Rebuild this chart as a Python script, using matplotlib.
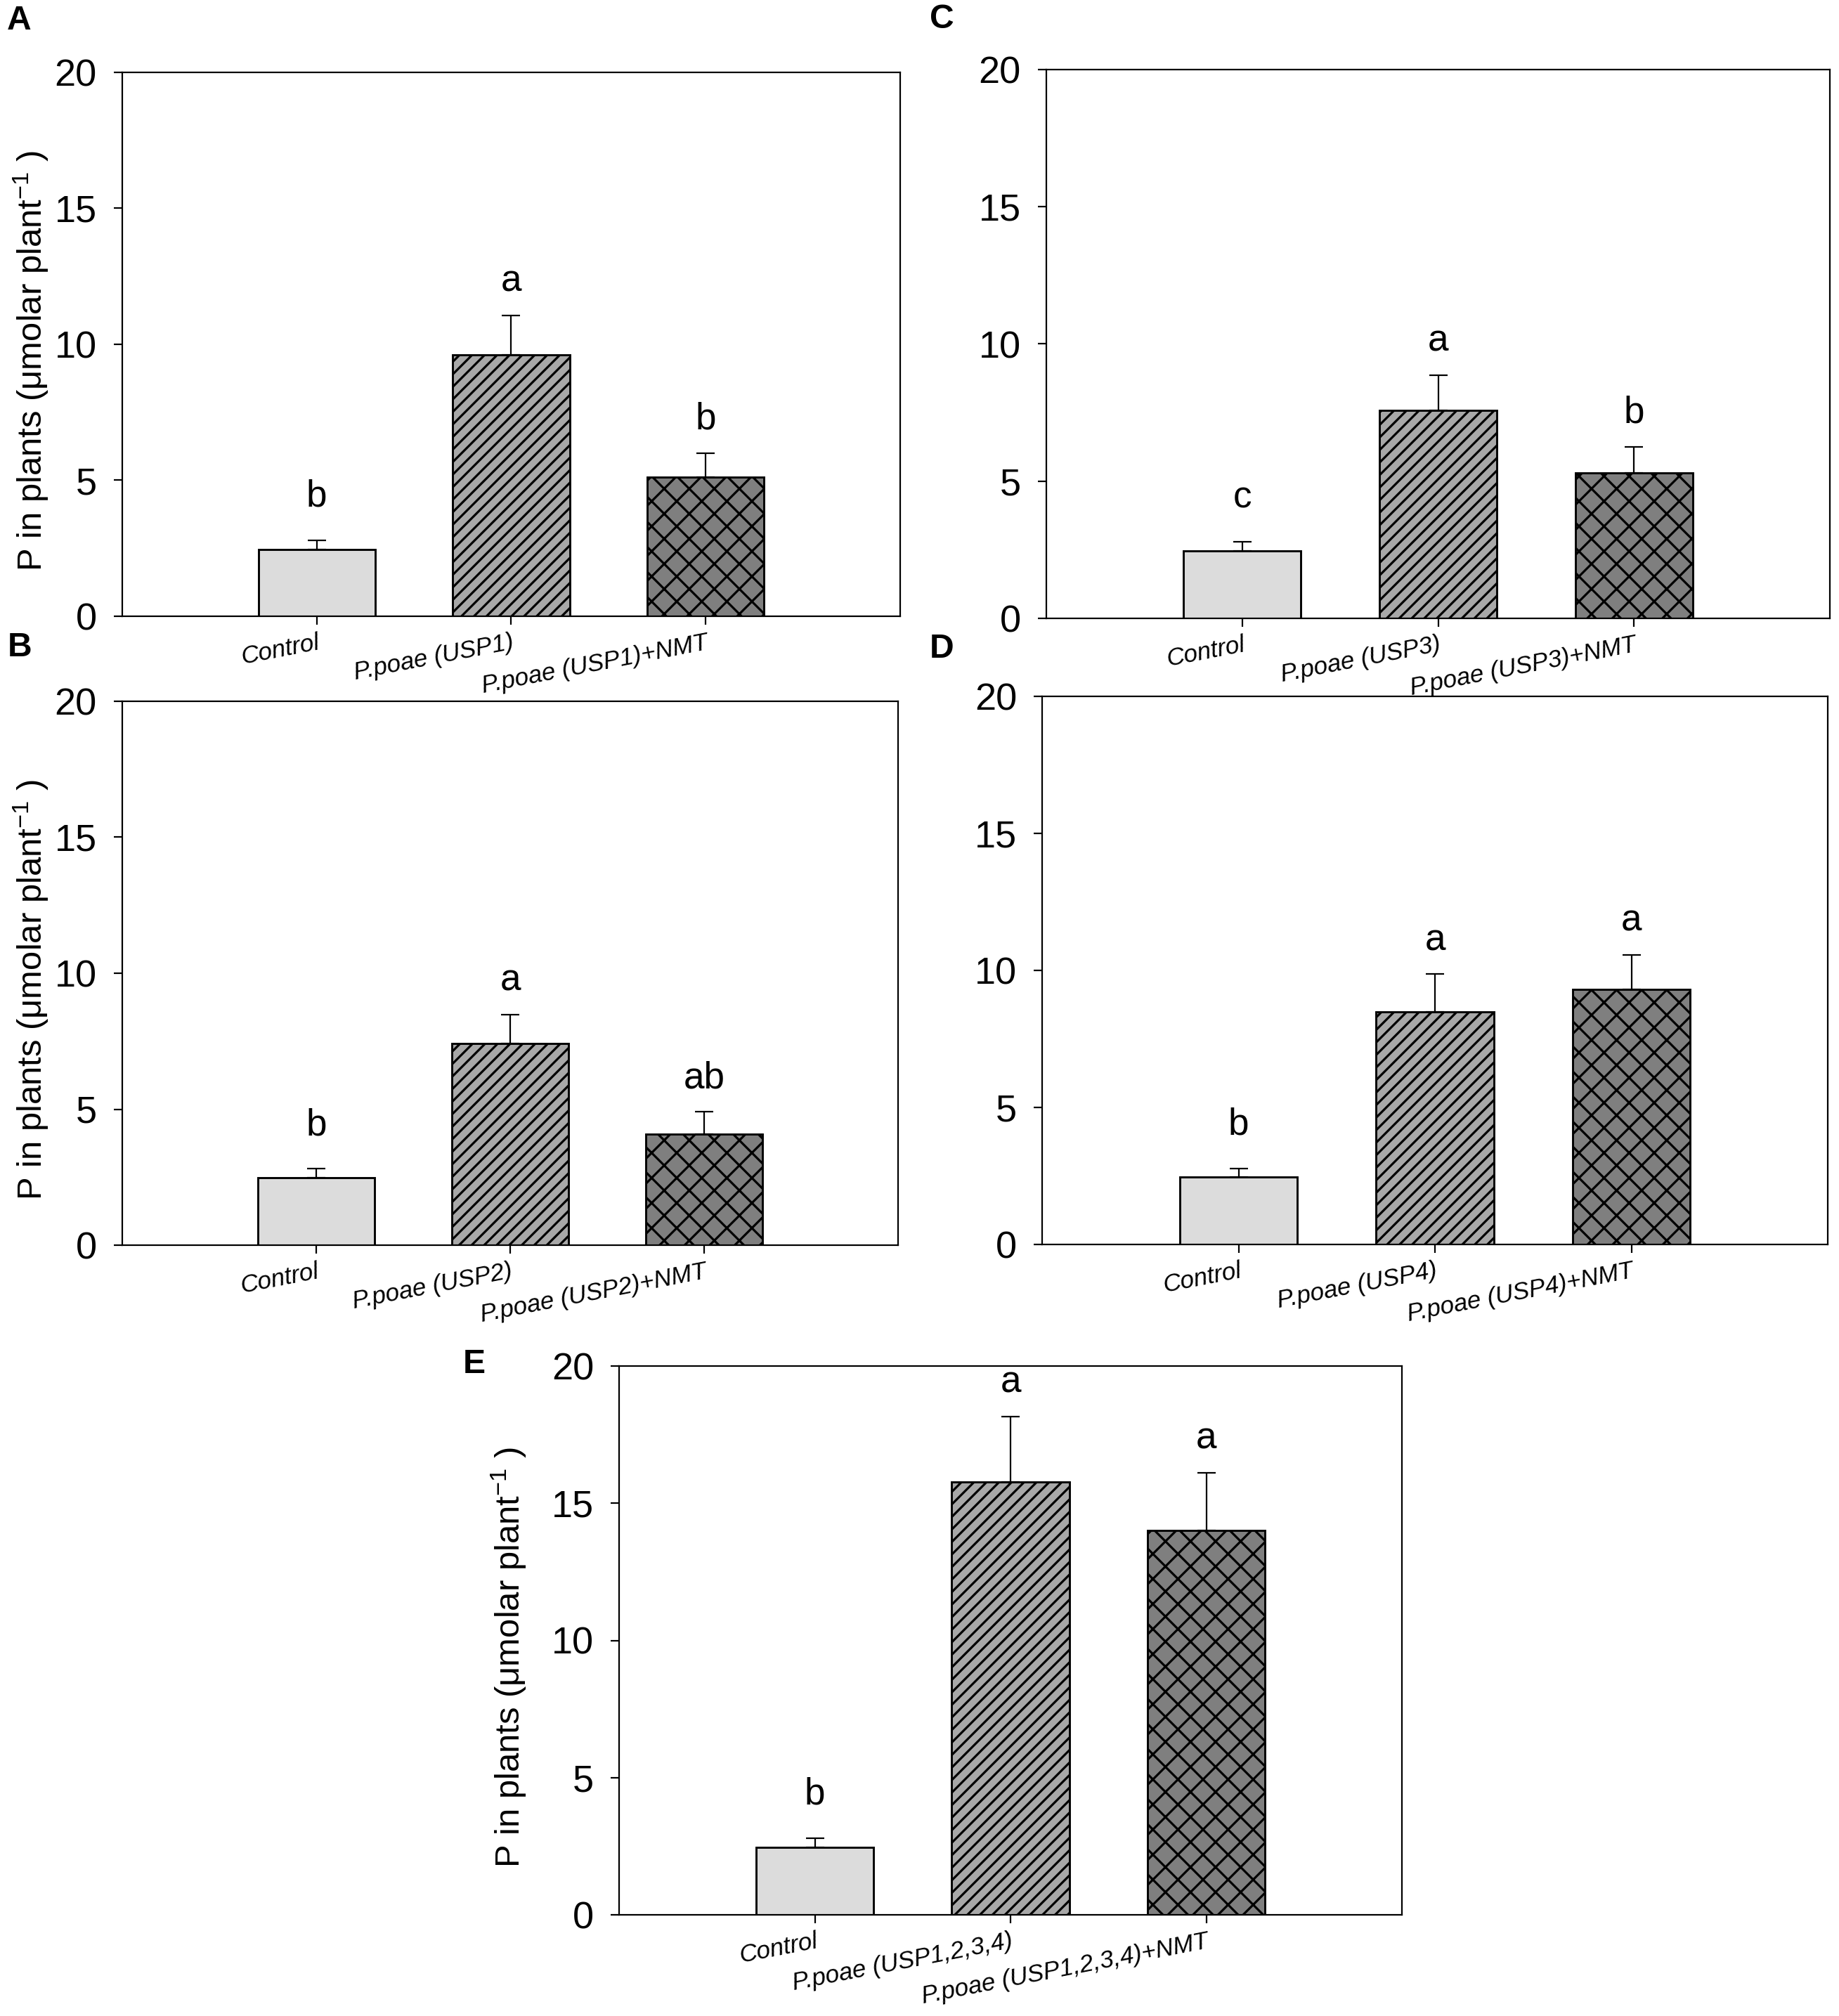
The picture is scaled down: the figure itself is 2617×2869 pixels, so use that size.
import numpy as np
import matplotlib
matplotlib.use("Agg")
import matplotlib.pyplot as plt

# bar values (umolar plant-1), error = upper SE only
labels_A = ["Control", "P.poae (USP1)", "P.poae (USP1)+NMT"]
means_A = [2.45, 9.62, 5.12]
err_A = [0.35, 1.45, 0.88]
sig_A = ["b", "a", "b"]

labels_B = ["Control", "P.poae (USP2)", "P.poae (USP2)+NMT"]
means_B = [2.49, 7.42, 4.08]
err_B = [0.33, 1.05, 0.82]
sig_B = ["b", "a", "ab"]

labels_C = ["Control", "P.poae (USP3)", "P.poae (USP3)+NMT"]
means_C = [2.46, 7.58, 5.30]
err_C = [0.34, 1.27, 0.94]
sig_C = ["c", "a", "b"]

labels_D = ["Control", "P.poae (USP4)", "P.poae (USP4)+NMT"]
means_D = [2.45, 8.50, 9.30]
err_D = [0.33, 1.36, 1.26]
sig_D = ["b", "a", "a"]

labels_E = ["Control", "P.poae (USP1,2,3,4)", "P.poae (USP1,2,3,4)+NMT"]
means_E = [2.46, 15.77, 14.00]
err_E = [0.33, 2.38, 2.10]
sig_E = ["b", "a", "a"]

yticks = [0, 5, 10, 15, 20]

# low dpi so the hatch patterns come out as dense as the original
W, H, DPI = 2617, 2869, 107


def px(v):
    # pixel size -> points
    return v * 72.0 / DPI


plt.rcParams['font.family'] = ['Liberation Sans', 'DejaVu Sans']
plt.rcParams['mathtext.fontset'] = 'custom'
plt.rcParams['mathtext.rm'] = 'Liberation Sans'
plt.rcParams['mathtext.it'] = 'Liberation Sans:italic'
plt.rcParams['hatch.linewidth'] = px(3.2)
plt.rcParams['hatch.color'] = 'black'

fig = plt.figure(figsize=(W / DPI, H / DPI), dpi=DPI)

bar_colors = ['#dcdcdc', '#a8a8a8', '#7f7f7f']
bar_hatch = [None, '//', 'x']
gaps = [0.95, 0.6, 0.6]


def panel(rect, letter, letter_xy, labels, means, errs, sigs, ylab_x=None):
    # rect in pixels: left, right, top, bottom
    l, r, t, b = rect
    ax = fig.add_axes([l / W, 1 - b / H, (r - l) / W, (b - t) / H])
    x = np.arange(1, 4)
    ax.errorbar(x, means, yerr=[np.zeros(3), errs], fmt='none', ecolor='black',
                elinewidth=px(2.2), capsize=px(13), capthick=px(2.2), zorder=1)
    for i in range(3):
        ax.bar(x[i], means[i], width=0.6, color=bar_colors[i], edgecolor='black',
               linewidth=px(2.9), hatch=bar_hatch[i], zorder=2)
        ax.text(x[i], means[i] + errs[i] + gaps[i], sigs[i], ha='center',
                va='bottom', fontsize=px(53))
    ax.set_xlim(0, 4)
    ax.set_ylim(0, 20)
    ax.set_yticks(yticks)
    ax.set_xticks(x)
    ax.set_xticklabels(labels, rotation=11, ha='right', va='top',
                       rotation_mode='anchor', fontsize=px(35), style='italic')
    ax.tick_params(axis='y', direction='out', length=px(12), width=px(2.2),
                   pad=px(24), labelsize=px(54), right=False)
    ax.tick_params(axis='x', direction='out', length=px(12), width=px(2.2),
                   pad=px(9), top=False)
    for s in ax.spines.values():
        s.set_linewidth(px(2.2))
    if ylab_x is not None:
        ax.set_ylabel('P in plants (μmolar plant$^{-1}$ )', fontsize=px(49))
        ax.yaxis.set_label_coords(ylab_x, 0.47)
    fig.text(letter_xy[0] / W, 1 - letter_xy[1] / H, letter, fontsize=px(48),
             fontweight='bold', ha='center', va='center')
    return ax


panel((174, 1281, 103, 877), 'A', (27, 29), labels_A, means_A, err_A, sig_A, -0.092)
panel((174, 1278, 998, 1772), 'B', (28, 922), labels_B, means_B, err_B, sig_B, -0.092)
panel((1489, 2604, 99, 880), 'C', (1340, 27), labels_C, means_C, err_C, sig_C)
panel((1483, 2601, 991, 1771), 'D', (1340, 924), labels_D, means_D, err_D, sig_D)
panel((881, 1995, 1944, 2725), 'E', (675, 1942), labels_E, means_E, err_E, sig_E, -0.116)

fig.savefig('out.png', dpi=DPI)
